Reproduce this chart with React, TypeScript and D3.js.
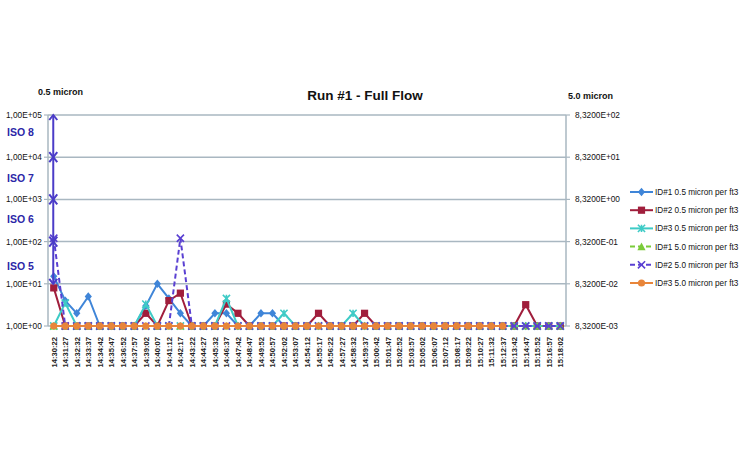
import React from "react";
import * as d3 from "d3";

const times = [
  "14:30:22","14:31:27","14:32:32","14:33:37","14:34:42","14:35:47","14:36:52","14:37:57",
  "14:39:02","14:40:07","14:41:12","14:42:17","14:43:22","14:44:27","14:45:32","14:46:37",
  "14:47:42","14:48:47","14:49:52","14:50:57","14:52:02","14:53:07","14:54:12","14:55:17",
  "14:56:22","14:57:27","14:58:32","14:59:37","15:00:42","15:01:47","15:02:52","15:03:57",
  "15:05:02","15:06:07","15:07:12","15:08:17","15:09:22","15:10:27","15:11:32","15:12:37",
  "15:13:42","15:14:47","15:15:52","15:16:57","15:18:02",
];

// 0.5 micron per ft3 (left axis); 0 = at axis minimum
const id1_05 = [15,4,2,5,0,0,0,0,3,10,4.5,2,0,0,2,2,0,0,2,2,0,0,0,0,0,0,0,0,0,0,0,0,0,0,0,0,0,0,0,0,0,0,0,0,0];
const id2_05 = [8,0,0,0,0,0,0,0,2,0,4,6,0,0,0,3.3,2,0,0,0,0,0,0,2,0,0,0,2,0,0,0,0,0,0,0,0,0,0,0,0,0,3.2,0,0,0];
const id3_05 = [0,3.5,0,0,0,0,0,0,3.3,0,0,0,0,0,0,4.5,0,0,0,0,2,0,0,0,0,0,2,0,0,0,0,0,0,0,0,0,0,0,0,0,0,0,0,0,0];
// 5.0 micron per ft3 (right axis)
const id1_50 = [0,0,0,0,0,0,0,0,0,0,0,0,0,0,0,0,0,0,0,0,0,0,0,0,0,0,0,0,0,0,0,0,0,0,0,0,0,0,0,0,0,0,0,0,0];
const id2_50 = [1,0,0,0,0,0,0,0,0,0,0,1,0,0,0,0,0,0,0,0,0,0,0,0,0,0,0,0,0,0,0,0,0,0,0,0,0,0,0,0,0,0,0,0,0];
const id3_50: (number | null)[] = [0,0,0,0,0,0,0,0,0,0,0,0,0,0,0,0,0,0,0,0,0,0,0,0,0,0,0,0,0,0,0,0,0,0,0,0,0,0,0,0,null,null,null,null,null];

const leftTicks = [1, 10, 100, 1000, 10000, 100000];
const leftTickLabels = ["1,00E+00","1,00E+01","1,00E+02","1,00E+03","1,00E+04","1,00E+05"];
const rightTicks = [0.00832, 0.0832, 0.832, 8.32, 83.2, 832];
const rightTickLabels = ["8,3200E-03","8,3200E-02","8,3200E-01","8,3200E+00","8,3200E+01","8,3200E+02"];
const isoLabels = ["ISO 5", "ISO 6", "ISO 7", "ISO 8"];
const isoRanges = [[10, 100], [100, 1000], [1000, 10000], [10000, 100000]];
const isoShift = [3, -2, 0, -4];

type Series = { name: string; values: (number | null)[]; color: string; marker: string; dashed: boolean; axis: "L" | "R" };
const series: Series[] = [
  { name: "ID#1 0.5 micron per ft3", values: id1_05, color: "#3F85D8", marker: "diamond", dashed: false, axis: "L" },
  { name: "ID#2 0.5 micron per ft3", values: id2_05, color: "#A01E3C", marker: "square", dashed: false, axis: "L" },
  { name: "ID#3 0.5 micron per ft3", values: id3_05, color: "#3ECBC6", marker: "star", dashed: false, axis: "L" },
  { name: "ID#1 5.0 micron per ft3", values: id1_50, color: "#7BCB3A", marker: "triangle", dashed: true, axis: "R" },
  { name: "ID#2 5.0 micron per ft3", values: id2_50, color: "#5A40D2", marker: "x", dashed: true, axis: "R" },
  { name: "ID#3 5.0 micron per ft3", values: id3_50, color: "#E8853A", marker: "circle", dashed: false, axis: "R" },
];

const M = { left: 48, right: 566, top: 115, bottom: 326 };
const FONT = "'Liberation Sans', Arial, sans-serif";

function Marker({ type, x, y, color }: { type: string; x: number; y: number; color: string }) {
  const s = 3.6;
  switch (type) {
    case "diamond":
      return <path d={`M${x},${y - s - 0.6}L${x + s},${y}L${x},${y + s + 0.6}L${x - s},${y}Z`} fill={color} />;
    case "square":
      return <rect x={x - s} y={y - s} width={2 * s} height={2 * s} fill={color} />;
    case "triangle":
      return <path d={`M${x},${y - s - 0.5}L${x + s + 0.5},${y + s}L${x - s - 0.5},${y + s}Z`} fill={color} />;
    case "x":
      return <path d={`M${x - s},${y - s}L${x + s},${y + s}M${x - s},${y + s}L${x + s},${y - s}`} stroke={color} strokeWidth={1.6} />;
    case "star":
      return <path d={`M${x - s},${y - s}L${x + s},${y + s}M${x - s},${y + s}L${x + s},${y - s}M${x},${y - s}L${x},${y + s}`} stroke={color} strokeWidth={1.6} />;
    default:
      return <circle cx={x} cy={y} r={s} fill={color} />;
  }
}

export default function App() {
  const x = d3.scalePoint<string>().domain(times).range([M.left, M.right]).padding(0.5);
  const yL = d3.scaleLog().domain([1, 100000]).range([M.bottom, M.top]).clamp(true);
  const yR = d3.scaleLog().domain([0.00832, 832]).range([M.bottom, M.top]).clamp(true);
  const arrowX = x(times[0])! - 0.5;
  const arrowColor = "#4B3CC8";
  const legendX = 630;
  const legendY0 = 192;
  const legendStep = 18.2;

  return (
    <svg width={750} height={450} style={{ display: "block", position: "absolute", left: 0, top: 0, background: "#fff" }} fontFamily={FONT}>
      <rect width={750} height={450} fill="#fff" />
      <text x={365} y={100} textAnchor="middle" fontSize={13.5} fontWeight="bold" fill="#111">Run #1 - Full Flow</text>
      <text x={38} y={95} fontSize={9} fontWeight="bold" fill="#111">0.5 micron</text>
      <text x={568} y={99} fontSize={9} fontWeight="bold" fill="#111">5.0 micron</text>

      {/* gridlines */}
      {leftTicks.map((t) => (
        <line key={"g" + t} x1={M.left} x2={M.right} y1={yL(t)} y2={yL(t)} stroke="#A9B7C1" strokeWidth={1.5} />
      ))}
      {/* axes */}
      <line x1={M.left} x2={M.left} y1={M.top} y2={M.bottom} stroke="#A9B7C1" strokeWidth={1.5} />
      <line x1={M.right} x2={M.right} y1={M.top} y2={M.bottom} stroke="#A9B7C1" strokeWidth={1.5} />
      {leftTicks.map((t, i) => (
        <g key={"l" + t}>
          <line x1={M.left - 4} x2={M.left} y1={yL(t)} y2={yL(t)} stroke="#A9B7C1" strokeWidth={1.2} />
          <text x={6} y={yL(t) + 3} fontSize={8.3} fill="#111">{leftTickLabels[i]}</text>
        </g>
      ))}
      {rightTicks.map((t, i) => (
        <g key={"r" + t}>
          <line x1={M.right} x2={M.right + 4} y1={yR(t)} y2={yR(t)} stroke="#A9B7C1" strokeWidth={1.2} />
          <text x={575} y={yR(t) + 3} fontSize={8.3} fill="#111">{rightTickLabels[i]}</text>
        </g>
      ))}
      {/* ISO labels */}
      {isoRanges.map((r, i) => (
        <text key={isoLabels[i]} x={7} y={(yL(r[0]) + yL(r[1])) / 2 + 4 + isoShift[i]} fontSize={10.5} fontWeight="bold" fill="#2B27A8">{isoLabels[i]}</text>
      ))}
      {/* x labels */}
      {times.map((t) => (
        <text key={t} transform={`translate(${x(t)! + 3},${337}) rotate(-90)`} textAnchor="end" fontSize={7.6} fontWeight="bold" fill="#222">{t}</text>
      ))}

      {/* series */}
      {series.map((s) => {
        const ys = s.axis === "L" ? yL : yR;
        const line = d3.line<number | null>()
          .defined((d) => d !== null)
          .x((_, i) => x(times[i])!)
          .y((d) => ys(d as number));
        return (
          <g key={s.name}>
            <path d={line(s.values) || ""} fill="none" stroke={s.color} strokeWidth={2} strokeDasharray={s.dashed ? "5,3" : undefined} />
            {s.values.map((v, i) => v === null ? null : (
              <Marker key={i} type={s.marker} x={x(times[i])!} y={ys(v)} color={s.color} />
            ))}
          </g>
        );
      })}

      {/* ISO class arrows */}
      {isoRanges.map((r, i) => {
        const y1 = yL(r[1]);
        const y2 = yL(r[0]);
        const a = 4;
        return (
          <g key={"a" + i} stroke={arrowColor} strokeWidth={2} fill="none">
            <line x1={arrowX} x2={arrowX} y1={y1} y2={y2} />
            <path d={`M${arrowX - a},${y1 + a + 1}L${arrowX},${y1}L${arrowX + a},${y1 + a + 1}`} />
            <path d={`M${arrowX - a},${y2 - a - 1}L${arrowX},${y2}L${arrowX + a},${y2 - a - 1}`} />
          </g>
        );
      })}

      {/* legend */}
      {series.map((s, i) => {
        const ly = legendY0 + i * legendStep;
        return (
          <g key={"lg" + s.name}>
            <line x1={legendX} x2={legendX + 23} y1={ly} y2={ly} stroke={s.color} strokeWidth={2} strokeDasharray={s.dashed ? "5,3" : undefined} />
            <Marker type={s.marker} x={legendX + 11.5} y={ly} color={s.color} />
            <text x={legendX + 25} y={ly + 3} fontSize={8.2} fill="#111">{s.name}</text>
          </g>
        );
      })}
    </svg>
  );
}
